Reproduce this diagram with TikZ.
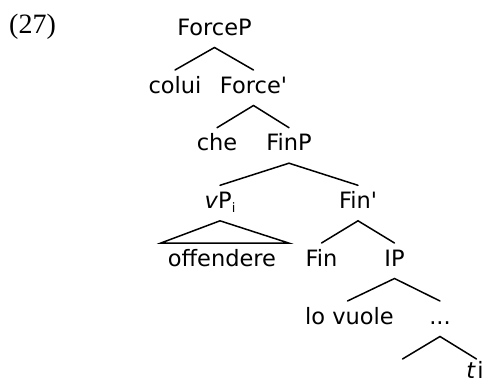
\documentclass[tikz,border=0pt]{standalone}
\usepackage{fontspec}
\newfontfamily\treefont{DejaVu Sans}
\newfontfamily\numfont{Liberation Serif}
\usetikzlibrary{calc}
\newcommand{\subi}{\raisebox{-4.5pt}{\fontsize{13}{13}\selectfont i}}
\begin{document}
\begin{tikzpicture}[x=1pt,y=-1pt,
  lbl/.style={anchor=base,inner sep=0pt,outer sep=0pt,
    text height=23pt,text depth=12.5pt,
    font=\fontsize{22.5}{26}\selectfont\treefont},
  branch/.style={line width=1.5pt,line cap=round}]
\useasboundingbox (0,0) rectangle (484,383);

% example number
\node[anchor=base west,inner sep=0pt,font=\fontsize{28}{30}\selectfont\numfont] (num) at (9,33.5) {(27)};

% tree nodes
\node[lbl] (forcep) at (214.5,35) {ForceP};
\node[lbl] (colui) at (175,93) {colui};
\node[lbl] (forcebar) at (253.5,93) {Force'};
\node[lbl] (che) at (217,150.7) {che};
\node[lbl] (finp) at (289,150.7) {FinP};
\node[lbl] (vp) at (220,208.3) {\textit{v}P\subi};
\node[lbl] (finbar) at (358,208.3) {Fin'};
\node[lbl] (offendere) at (222,266) {offendere};
\node[lbl] (fin) at (321.5,266) {Fin};
\node[lbl] (ip) at (394.5,266) {IP};
\node[lbl] (lovuole) at (349.5,324) {lo vuole};
\node[lbl] (dots) at (440,324) {...};
\node[lbl,text height=19.5pt] (ti) at (475,378.5) {\textit{t}\kern1.5pt i};

% branches
\draw[branch] (colui.north) -- (forcep.south) -- (forcebar.north);
\draw[branch] (che.north) -- (forcebar.south) -- (finp.north);
\draw[branch] (vp.north) -- (finp.south) -- (finbar.north);
\draw[branch] (fin.north) -- (finbar.south) -- (ip.north);
\draw[branch] ($(lovuole.north)+(-2,0)$) -- (ip.south) -- (dots.north);
\draw[branch] ($(ti.north)+(-72.5,0)$) -- (dots.south) -- ($(ti.north)+(1.5,0)$);

% roof over the vP
\draw[branch,line join=miter] ($(offendere.north west)+(-7,0)$) -- (vp.south)
  -- ($(offendere.north east)+(12.5,0)$) -- cycle;
\end{tikzpicture}
\end{document}
